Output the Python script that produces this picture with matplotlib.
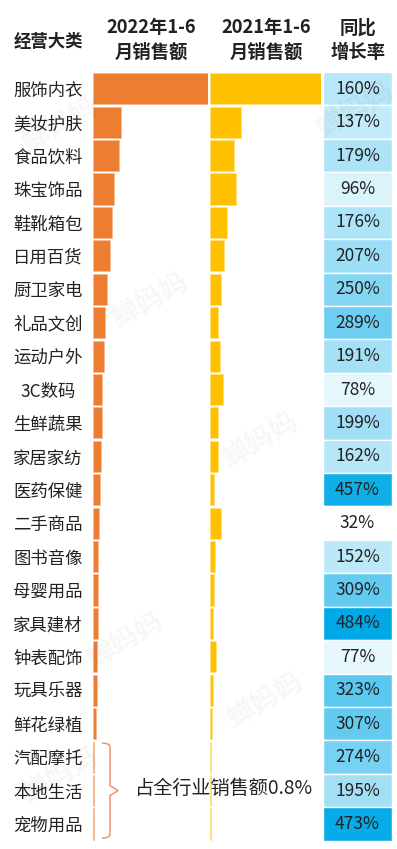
import matplotlib
matplotlib.use("Agg")
import matplotlib.pyplot as plt
import matplotlib.transforms as mtransforms
from matplotlib.colors import LinearSegmentedColormap, Normalize
from matplotlib.path import Path
from matplotlib.patches import PathPatch

plt.rcParams['font.family'] = ['Noto Sans CJK SC', 'DejaVu Sans']

# data (bar lengths are relative, each column scaled on its own)
categories = ['服饰内衣', '美妆护肤', '食品饮料', '珠宝饰品', '鞋靴箱包', '日用百货',
              '厨卫家电', '礼品文创', '运动户外', '3C数码', '生鲜蔬果', '家居家纺',
              '医药保健', '二手商品', '图书音像', '母婴用品', '家具建材', '钟表配饰',
              '玩具乐器', '鲜花绿植', '汽配摩托', '本地生活', '宠物用品']
sales_2022 = [115, 28.4, 25.7, 21, 19, 17, 14.4, 12.4, 11.4, 9.4, 9, 8.4,
              6.7, 5.7, 5, 5, 5, 4, 4, 3.3, 1.2, 1.2, 1.2]
sales_2021 = [111, 30.7, 24, 26, 17.3, 14.3, 10.7, 8, 10, 13.3, 8, 8,
              4, 11, 5, 4.3, 3.3, 6, 2.7, 2.3, 1, 1, 1]
growth = [160, 137, 179, 96, 176, 207, 250, 289, 191, 78, 199, 162,
          457, 32, 152, 309, 484, 77, 323, 307, 274, 195, 473]

headers = ['经营大类', '2022年1-6\n月销售额', '2021年1-6\n月销售额', '同比\n增长率']
note = '占全行业销售额0.8%'

W, H = 397, 849
fig = plt.figure(figsize=(W / 100, H / 100), dpi=100)

def px_axes(x0, x1, y0=72, y1=840.7):
    return fig.add_axes([x0 / W, 1 - y1 / H, (x1 - x0) / W, (y1 - y0) / H])

n = len(categories)
rows = list(range(n))
text_color = '#222222'

ax1 = px_axes(93, 208)
ax2 = px_axes(210, 321)
ax3 = px_axes(323.3, 391.7)

ax1.barh(rows, sales_2022, height=0.93, color='#ed7d31', edgecolor='#f6b98f', linewidth=0.4)
ax2.barh(rows, sales_2021, height=0.93, color='#ffc000', edgecolor='#ffdf80', linewidth=0.4)
ax1.set_xlim(0, max(sales_2022))
ax2.set_xlim(0, max(sales_2021))

cmap = LinearSegmentedColormap.from_list('blues', ['#ffffff', '#00a9e6'])
norm = Normalize(vmin=min(growth), vmax=max(growth))
ax3.barh(rows, [1] * n, height=1.0, color=[cmap(norm(g)) for g in growth],
         edgecolor='white', linewidth=1.0)
ax3.set_xlim(0, 1)
for i, g in enumerate(growth):
    ax3.text(0.5, i, f'{g}%', ha='center', va='center', fontsize=12.5,
             color=text_color)

for ax in (ax1, ax2, ax3):
    ax.set_ylim(n - 0.5, -0.5)
    ax.set_xticks([])
    for s in ax.spines.values():
        s.set_visible(False)
    ax.patch.set_alpha(0)

ax1.set_yticks(rows)
ax1.set_yticklabels(categories, fontsize=12.5, color=text_color, ha='center',
                    fontweight='medium')
ax1.tick_params(axis='y', length=0, pad=32.5)
ax2.set_yticks([])
ax3.set_yticks([])

# column headers
fig.text(48 / W, 1 - 42 / H, headers[0], ha='center', va='center',
         fontsize=12.5, fontweight='bold', color=text_color)
for hx, label in zip([151, 266, 358], headers[1:]):
    fig.text(hx / W, 1 - 40 / H, label, ha='center', va='center',
             fontsize=13.2, fontweight='bold', color=text_color, linespacing=1.35)

# bracket around the last three rows
trans = mtransforms.blended_transform_factory(fig.transFigure, ax1.transData)
bx0, bx1, bx2 = 102 / W, 110 / W, 118 / W
top, mid, bot = n - 3 - 0.42, n - 2, n - 1 + 0.42
verts = [(bx0, top), (bx1, top), (bx1, top + 0.12), (bx1, mid - 0.15),
         (bx2, mid), (bx1, mid + 0.15), (bx1, bot - 0.12), (bx1, bot), (bx0, bot)]
codes = [Path.MOVETO, Path.CURVE3, Path.CURVE3, Path.LINETO,
         Path.LINETO, Path.LINETO, Path.LINETO, Path.CURVE3, Path.CURVE3]
ax1.add_patch(PathPatch(Path(verts, codes), transform=trans, fill=False,
                        edgecolor='#f08a5d', linewidth=1.0, clip_on=False))
fig.text(134 / W, 1 - 788 / H, note, ha='left', va='center', fontsize=13.8,
         color=text_color, zorder=10)

# faint watermarks
for (wx, wy) in [(60, 125), (355, 110), (150, 300), (260, 440), (125, 640), (265, 700), (60, 775)]:
    fig.text(wx / W, 1 - wy / H, '蝉妈妈', ha='center', va='center', fontsize=20,
             fontweight='bold', color='#000000', alpha=0.035, rotation=30)

fig.savefig('out.png', dpi=100)
